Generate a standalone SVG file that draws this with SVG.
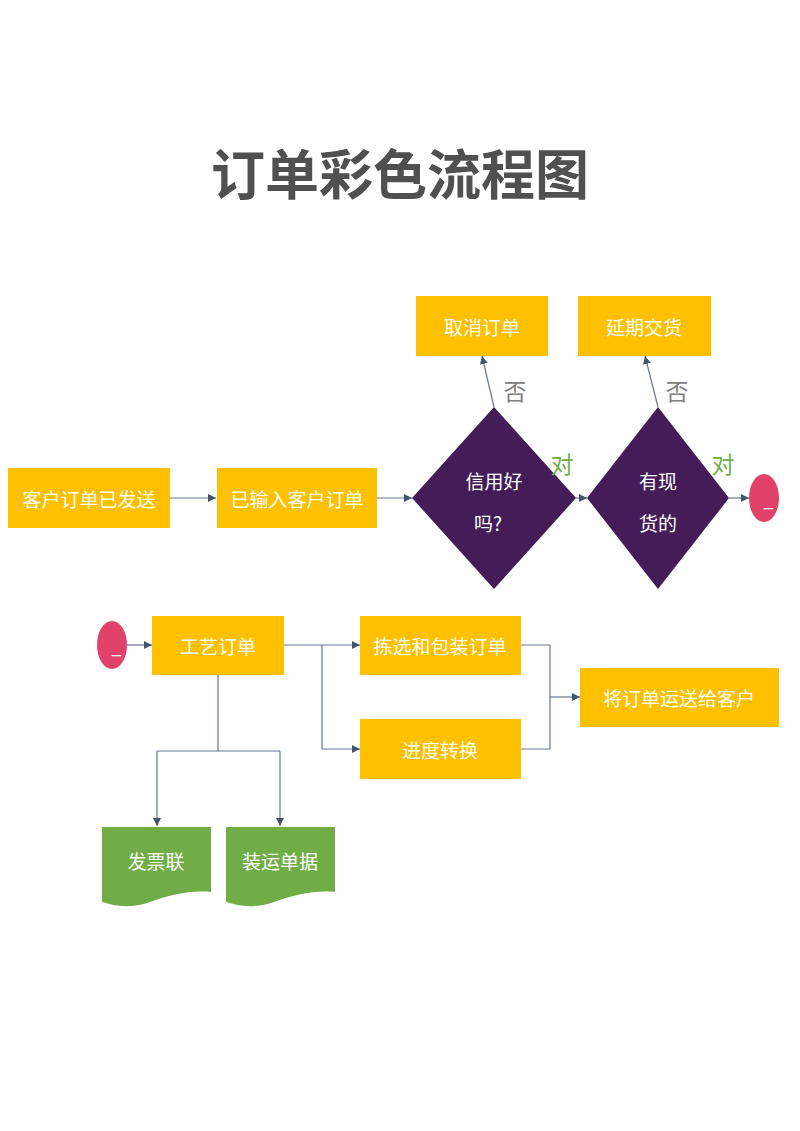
<svg xmlns="http://www.w3.org/2000/svg" width="800" height="1131" viewBox="0 0 800 1131">
<style>
.t{font-family:"Noto Sans CJK SC","Liberation Sans",sans-serif;}
.box{fill:#FFC000;}
.dia{fill:#441D58;}
.doc{fill:#70AD47;}
.term{fill:#E0426A;}
.lbl{font-size:19px;fill:#FFFFFF;text-anchor:middle;dominant-baseline:central;}
.no{font-size:23px;fill:#808080;text-anchor:middle;dominant-baseline:central;}
.yes{font-size:23px;fill:#70AD47;text-anchor:middle;dominant-baseline:central;}
.us{font-family:"Liberation Sans",sans-serif;font-size:16px;fill:#FFFFFF;}
.c{fill:none;stroke:#6B7690;stroke-width:1.2;}
</style>
<defs>
<marker id="ah" viewBox="0 0 10 10" refX="10" refY="5" markerWidth="8" markerHeight="8" markerUnits="userSpaceOnUse" orient="auto">
<path d="M0,0 L10,5 L0,10 Z" fill="#44546A"/>
</marker>
</defs>
<rect width="800" height="1131" fill="#FFFFFF"/>
<text class="t" x="400" y="171" font-size="54" font-weight="bold" fill="#505050" text-anchor="middle" dominant-baseline="central">订单彩色流程图</text>

<g id="connectors">
<path class="c" d="M170,498 H216" marker-end="url(#ah)"/>
<path class="c" d="M377,498 H412" marker-end="url(#ah)"/>
<path class="c" d="M576,498 H587" marker-end="url(#ah)"/>
<path class="c" d="M729,498 H749" marker-end="url(#ah)"/>
<path class="c" d="M494,407 L482,356" marker-end="url(#ah)"/>
<path class="c" d="M658,407 L645,356" marker-end="url(#ah)"/>
<path class="c" d="M127,645 H152" marker-end="url(#ah)"/>
<path class="c" d="M284,645 H360" marker-end="url(#ah)"/>
<path class="c" d="M322,645 V749 H360" marker-end="url(#ah)"/>
<path class="c" d="M521,645 H550 V749 H521"/>
<path class="c" d="M550,697 H580" marker-end="url(#ah)"/>
<path class="c" d="M218,675 V751"/>
<path class="c" d="M157,751 H280"/>
<path class="c" d="M157,751 V826" marker-end="url(#ah)"/>
<path class="c" d="M280,751 V826" marker-end="url(#ah)"/>
</g>

<g id="n-cancel">
<rect class="box" x="416" y="296" width="132" height="60"/>
<text class="t lbl" x="482" y="326">取消订单</text>
</g>
<g id="n-delay">
<rect class="box" x="578" y="296" width="133" height="60"/>
<text class="t lbl" x="644" y="326">延期交货</text>
</g>
<g id="n-sent">
<rect class="box" x="8" y="468" width="162" height="60"/>
<text class="t lbl" x="89" y="498">客户订单已发送</text>
</g>
<g id="n-input">
<rect class="box" x="217" y="468" width="160" height="60"/>
<text class="t lbl" x="297" y="498">已输入客户订单</text>
</g>
<g id="n-credit">
<polygon class="dia" points="494,407 576,498 494,589 412,498"/>
<text class="t lbl" x="494" y="480">信用好</text>
<text class="t lbl" x="488" y="522">吗?</text>
</g>
<g id="n-stock">
<polygon class="dia" points="658,407 729,498 658,589 587,498"/>
<text class="t lbl" x="658" y="480">有现</text>
<text class="t lbl" x="658" y="522">货的</text>
</g>
<g id="n-end1">
<ellipse class="term" cx="764" cy="498" rx="15" ry="24"/>
<text class="us" x="764" y="506">_</text>
</g>
<g id="labels">
<text class="t no" x="515" y="390">否</text>
<text class="t no" x="677" y="390">否</text>
<text class="t yes" x="562" y="463">对</text>
<text class="t yes" x="723" y="463">对</text>
</g>
<g id="n-start2">
<ellipse class="term" cx="112" cy="645" rx="15" ry="24"/>
<text class="us" x="112" y="653">_</text>
</g>
<g id="n-craft">
<rect class="box" x="152" y="616" width="132" height="59"/>
<text class="t lbl" x="218" y="645">工艺订单</text>
</g>
<g id="n-pick">
<rect class="box" x="360" y="616" width="161" height="59"/>
<text class="t lbl" x="440" y="645">拣选和包装订单</text>
</g>
<g id="n-progress">
<rect class="box" x="360" y="719" width="161" height="60"/>
<text class="t lbl" x="440" y="749">进度转换</text>
</g>
<g id="n-ship">
<rect class="box" x="580" y="668" width="199" height="59"/>
<text class="t lbl" x="679" y="697">将订单运送给客户</text>
</g>
<g id="n-invoice">
<path class="doc" d="M102,827 H211 V892 C190,890 170,895 150,902 C130,909 115,906 102,902 Z"/>
<text class="t lbl" x="156" y="860">发票联</text>
</g>
<g id="n-shipdoc">
<path class="doc" d="M226,827 H335 V892 C314,890 294,895 274,902 C254,909 239,906 226,902 Z"/>
<text class="t lbl" x="280" y="860">装运单据</text>
</g>
</svg>
